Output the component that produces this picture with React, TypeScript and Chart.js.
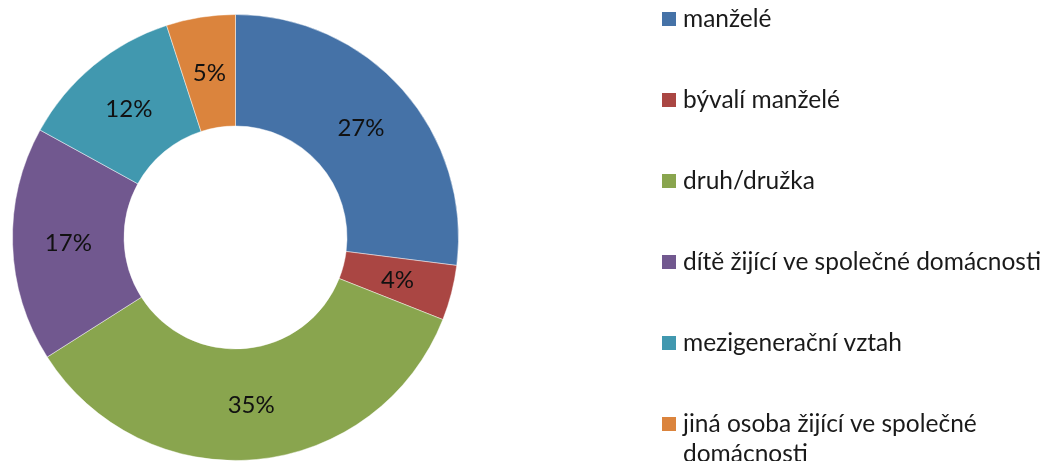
import React, { useEffect, useRef } from "react";
import { Chart, registerables } from "chart.js";

Chart.register(...registerables);

const categories: string[] = [
  "manželé",
  "bývalí manželé",
  "druh/družka",
  "dítě žijící ve společné domácnosti",
  "mezigenerační vztah",
  "jiná osoba žijící ve společné domácnosti",
];
const legendLines: string[][] = [
  ["manželé"],
  ["bývalí manželé"],
  ["druh/družka"],
  ["dítě žijící ve společné domácnosti"],
  ["mezigenerační vztah"],
  ["jiná osoba žijící ve společné", "domácnosti"],
];
const values: number[] = [27, 4, 35, 17, 12, 5];
const colors: string[] = ["#4572A7", "#AA4643", "#89A54E", "#71588F", "#4198AF", "#DB843D"];

const FONT = "Lato, 'Open Sans', sans-serif";

const labelPlugin = {
  id: "sliceLabels",
  afterDatasetsDraw(chart: any) {
    const ctx = chart.ctx;
    const meta = chart.getDatasetMeta(0);
    const data = chart.data.datasets[0].data as number[];
    const total = data.reduce((a: number, b: number) => a + b, 0);
    ctx.save();
    ctx.font = `24px ${FONT}`;
    ctx.fillStyle = "#111";
    ctx.textAlign = "center";
    ctx.textBaseline = "middle";
    meta.data.forEach((arc: any, i: number) => {
      const p = arc.getCenterPoint();
      ctx.fillText(`${Math.round((data[i] / total) * 100)}%`, p.x, p.y + 1);
    });
    ctx.restore();
  },
};

const legendPlugin = {
  id: "customLegend",
  afterDraw(chart: any) {
    const ctx = chart.ctx;
    ctx.save();
    ctx.font = `24.5px ${FONT}`;
    ctx.textBaseline = "middle";
    ctx.textAlign = "left";
    const x0 = 662;
    const y0 = 19;
    const step = 81;
    legendLines.forEach((lines, i) => {
      const y = y0 + i * step;
      ctx.fillStyle = colors[i];
      ctx.fillRect(x0, y - 7, 14, 14);
      ctx.fillStyle = "#1a1a1a";
      lines.forEach((t, j) => {
        ctx.fillText(t, x0 + 21, y + j * 30);
      });
    });
    ctx.restore();
  },
};

export default function App() {
  const ref = useRef<HTMLCanvasElement | null>(null);
  useEffect(() => {
    document.body.style.margin = "0";
    if (!ref.current) return;
    const chart = new Chart(ref.current, {
      type: "doughnut",
      data: {
        labels: categories,
        datasets: [
          {
            data: values,
            backgroundColor: colors,
            borderColor: "rgba(255,255,255,0.45)",
            borderWidth: 1,
          },
        ],
      },
      options: {
        animation: false,
        responsive: false,
        cutout: "50%",
        layout: { padding: { left: 12, top: 14, right: 592, bottom: 0 } },
        plugins: {
          legend: { display: false },
          tooltip: { enabled: false },
        },
      },
      plugins: [labelPlugin, legendPlugin],
    });
    return () => chart.destroy();
  }, []);
  return (
    <div style={{ width: 1051, height: 461, background: "#fff" }}>
      <canvas ref={ref} width={1051} height={461} style={{ display: "block" }} />
    </div>
  );
}
